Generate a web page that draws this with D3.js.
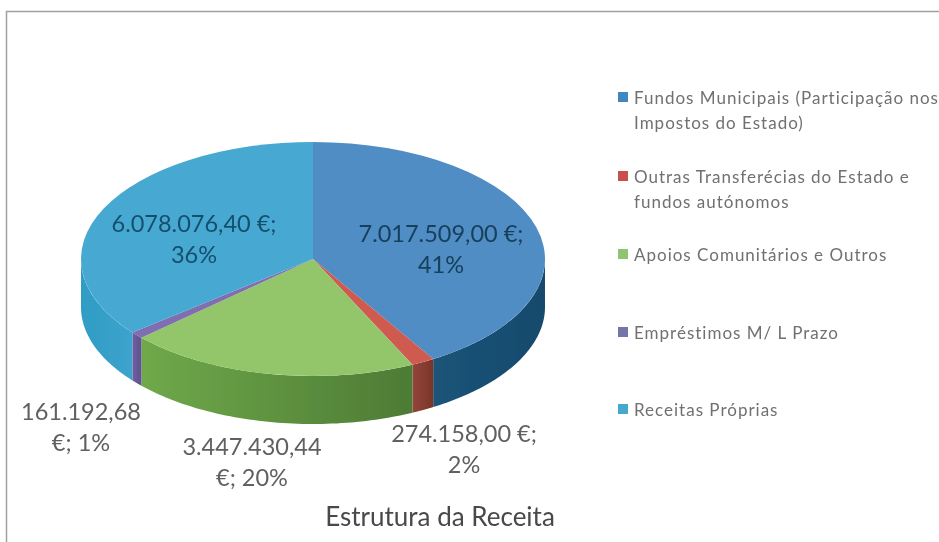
<!DOCTYPE html>
<html><head><meta charset="utf-8">
<script src="https://cdn.jsdelivr.net/npm/d3@7"></script>
<style>
html,body{margin:0;padding:0;background:#fff;}
svg{display:block;}
text{font-family:Lato,"Open Sans",sans-serif;}
</style></head><body><svg id="c" width="939" height="542"></svg>
<script>
const categories = ["Fundos Municipais (Participação nos Impostos do Estado)","Outras Transferências do Estado e fundos autónomos","Apoios Comunitários e Outros","Empréstimos M/ L Prazo","Receitas Próprias"];
const legendLines = [["Fundos Municipais (Participação nos","Impostos do Estado)"],["Outras Transferécias do Estado e","fundos autónomos"],["Apoios Comunitários e Outros"],["Empréstimos M/ L Prazo"],["Receitas Próprias"]];
const values = [7017509.00,274158.00,3447430.44,161192.68,6078076.40];
const labelLines = [["7.017.509,00 €;","41%"],["274.158,00 €;","2%"],["3.447.430,44","€; 20%"],["161.192,68","€; 1%"],["6.078.076,40 €;","36%"]];
const topColors = ["#4f8dc4","#cf5a50","#93c66a","#7f6eb0","#47a9d2"];
const sideLight = ["#1a5478","#94453a","#6fa94a","#7060a0","#2f9cc4"];
const sideDark = ["#174a6c","#7a3529","#4d7b35","#5f5090","#3da3cc"];
const legendColors = ["#3f86c0","#c9504a","#8fc46f","#7474a8","#45a8cf"];
const labelColors = ["#17405c","#606060","#606060","#606060","#14506e"];
const labelPos = [[441,242],[464,442],[252,455],[81,420],[194,232]];
const legendY = [104,183,261,339,416];
const title = "Estrutura da Receita";

const cx=313, cy=259, rx=232, ry=117, depth=48;
const svg=d3.select("#c");
const defs=svg.append("defs");
const blur=defs.append("filter").attr("id","soft").attr("x","-5%").attr("y","-5%").attr("width","110%").attr("height","110%");
blur.append("feGaussianBlur").attr("stdDeviation",0.6);

const root=svg.append("g").attr("filter","url(#soft)");
root.append("rect").attr("x",6.5).attr("y",11.5).attr("width",960).attr("height",560).attr("fill","#fff").attr("stroke","#a0a0a0").attr("stroke-width",1.5);

const pie=d3.pie().sort(null).startAngle(0).endAngle(2*Math.PI)(values);
const X=a=>cx+rx*Math.sin(a), Y=a=>cy-ry*Math.cos(a);
const side=d3.area().x(X).y0(Y).y1(a=>Y(a)+depth);
pie.forEach((p,i)=>{
  const a0=Math.max(p.startAngle,Math.PI/2), a1=Math.min(p.endAngle,3*Math.PI/2);
  if(a1<=a0) return;
  const id="g"+i;
  const g=defs.append("linearGradient").attr("id",id).attr("gradientUnits","userSpaceOnUse")
    .attr("x1",X(a1)).attr("x2",X(a0)).attr("y1",0).attr("y2",0);
  g.append("stop").attr("offset",0).attr("stop-color",sideLight[i]);
  g.append("stop").attr("offset",1).attr("stop-color",sideDark[i]);
  root.append("path").attr("d",side(d3.range(0,61).map(k=>a0+(a1-a0)*k/60))).attr("fill","url(#"+id+")");
});
const arc=d3.arc().innerRadius(0).outerRadius(rx);
root.append("g").attr("transform",`translate(${cx},${cy}) scale(1,${ry/rx})`)
  .selectAll("path").data(pie).join("path").attr("d",arc).attr("fill",(d,i)=>topColors[i]);

labelLines.forEach((ls,i)=>{
  const t=root.append("text").attr("text-anchor","middle").attr("font-size",23.5).attr("fill",labelColors[i]);
  ls.forEach((s,j)=>t.append("tspan").attr("x",labelPos[i][0]).attr("y",labelPos[i][1]+j*31).text(s));
});
legendLines.forEach((ls,i)=>{
  root.append("rect").attr("x",618).attr("y",legendY[i]-12).attr("width",10).attr("height",10).attr("fill",legendColors[i]);
  const t=root.append("text").attr("font-size",17).attr("fill","#707070").attr("letter-spacing",1);
  ls.forEach((s,j)=>t.append("tspan").attr("x",634).attr("y",legendY[i]+j*25).text(s));
});
root.append("text").attr("x",440).attr("y",526).attr("text-anchor","middle").attr("font-size",26).attr("fill","#484848").text(title);
</script></body></html>
